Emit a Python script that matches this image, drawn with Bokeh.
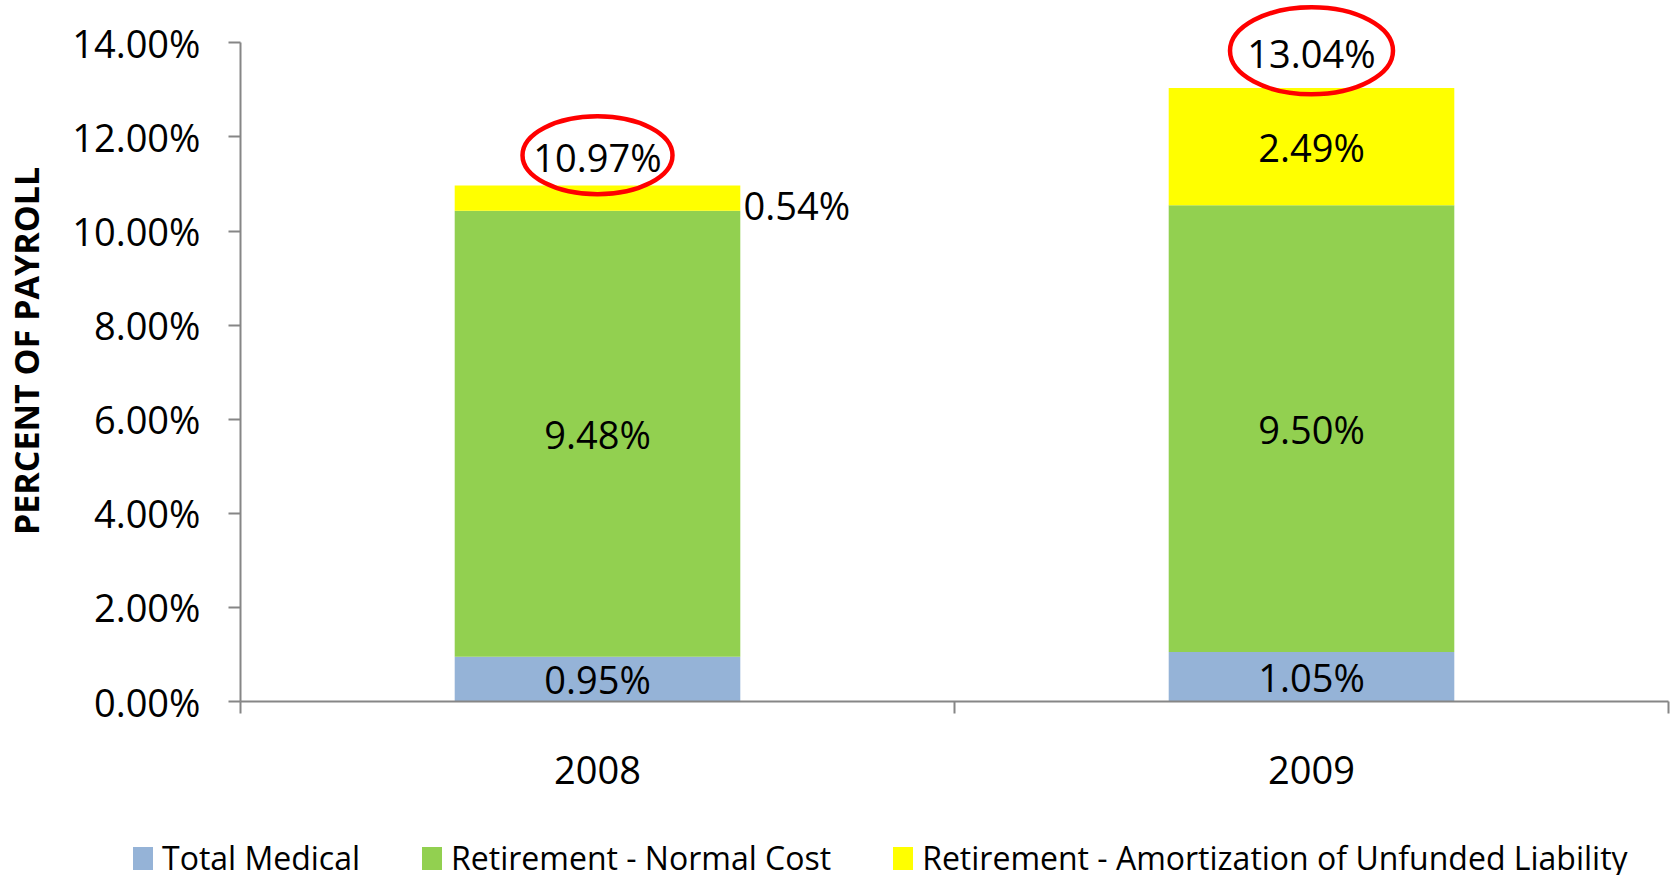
from bokeh.plotting import figure
from bokeh.layouts import column
from bokeh.models import (ColumnDataSource, Range1d, LinearAxis, Div,
                          FixedTicker, PrintfTickFormatter)
from bokeh.core.properties import value
from bokeh.embed import file_html
from bokeh.resources import INLINE

# ---- data ----
years = ["2008", "2009"]
series_names = ["Total Medical", "Retirement - Normal Cost",
                "Retirement - Amortization of Unfunded Liability"]
total_medical = [0.95, 1.05]
normal_cost = [9.48, 9.50]
amortization = [0.54, 2.49]
totals = [10.97, 13.04]
y_ticks = [0, 2, 4, 6, 8, 10, 12, 14]

# ---- style ----
colors = ["#95B3D7", "#92D050", "#FFFF00"]
FONT = "Open Sans"
AXIS_GRAY = "#868686"
LBL_SIZE = "38px"
ellipse_w = [150, 163]
ellipse_h = [78, 87]
ellipse_lift = [0.64, 0.79]   # gap between bar top and annotation centre (data units)

W = 1671
H_MAIN = 800
H_LEG = 75
LEFT = 238

# category slots: each year occupies one unit, centred at i + 0.5
xpos = [i + 0.5 for i in range(len(years))]
src = ColumnDataSource(dict(x=xpos, year=years, med=total_medical,
                            nc=normal_cost, am=amortization))

p = figure(x_range=Range1d(0, len(years)), y_range=Range1d(0, 14.9),
           width=W, height=H_MAIN, output_backend="svg", toolbar_location=None,
           x_axis_location=None,
           min_border_left=LEFT, min_border_right=3, min_border_top=0, min_border_bottom=99)
p.outline_line_color = None
p.grid.visible = False
p.background_fill_color = "white"

p.vbar_stack(["med", "nc", "am"], x="x", width=0.4, source=src,
             fill_color=colors, line_color=None)

# segment labels
in_x, in_y, in_t = [], [], []
out_x, out_y, out_t = [], [], []
for i, xc in enumerate(xpos):
    bottom = 0.0
    for vals in (total_medical, normal_cost, amortization):
        v = vals[i]
        mid = bottom + v / 2
        if v < 0.8:
            out_x.append(xc); out_y.append(mid); out_t.append(f"{v:.2f}%")
        else:
            in_x.append(xc); in_y.append(mid); in_t.append(f"{v:.2f}%")
        bottom += v

p.text(x=in_x, y=in_y, text=in_t, text_font=value(FONT), text_font_size=LBL_SIZE,
       text_align="center", text_baseline="middle", text_color="black")
p.text(x=out_x, y=out_y, text=out_t, text_font=value(FONT), text_font_size=LBL_SIZE,
       text_align="left", text_baseline="middle", text_color="black",
       x_offset=146, y_offset=7)

# totals with red ellipses
tot_y = [t + d for t, d in zip(totals, ellipse_lift)]
p.ellipse(x=xpos, y=tot_y, width=ellipse_w, height=ellipse_h,
          width_units="screen", height_units="screen",
          fill_color=None, line_color="#FF0000", line_width=4.5)
p.text(x=xpos, y=tot_y, text=[f"{t:.2f}%" for t in totals], text_font=value(FONT),
       text_font_size=LBL_SIZE, text_align="center", text_baseline="middle",
       text_color="black", y_offset=2)

# y axis
ya = p.yaxis[0]
ya.ticker = FixedTicker(ticks=y_ticks)
ya.formatter = PrintfTickFormatter(format="%.2f%%")
ya.bounds = (0, 14)
ya.axis_line_color = AXIS_GRAY
ya.axis_line_width = 2
ya.major_tick_line_color = AXIS_GRAY
ya.major_tick_line_width = 2
ya.major_tick_out = 12
ya.major_tick_in = 0
ya.minor_tick_line_color = None
ya.major_label_standoff = 28
ya.major_label_text_font = FONT
ya.major_label_text_font_size = LBL_SIZE
ya.major_label_text_color = "black"
ya.axis_label = "PERCENT OF PAYROLL"
ya.axis_label_text_font = FONT
ya.axis_label_text_font_style = "bold"
ya.axis_label_text_font_size = "34px"
ya.axis_label_text_color = "black"
ya.axis_label_standoff = 20

# x axis: category boundary ticks, labels at centres
xa = LinearAxis(ticker=FixedTicker(ticks=xpos, minor_ticks=list(range(len(years) + 1))),
                major_label_overrides={xc: yr for xc, yr in zip(xpos, years)})
xa.axis_line_color = AXIS_GRAY
xa.axis_line_width = 2
xa.major_tick_line_color = None
xa.major_tick_out = 0
xa.major_tick_in = 0
xa.minor_tick_line_color = AXIS_GRAY
xa.minor_tick_line_width = 2
xa.minor_tick_out = 12
xa.minor_tick_in = 0
xa.major_label_standoff = 42
xa.major_label_text_font = FONT
xa.major_label_text_font_size = LBL_SIZE
xa.major_label_text_color = "black"
p.add_layout(xa, "below")

# ---- legend strip underneath ----
items_html = "".join(
    f'<span style="display:inline-flex;align-items:center;margin-right:{62 if k < len(series_names) - 1 else 0}px;">'
    f'<span style="display:inline-block;width:20px;height:23px;background:{c};margin-right:9px;"></span>'
    f'<span>{name}</span></span>'
    for k, (name, c) in enumerate(zip(series_names, colors))
)
legend_div = Div(
    text=(f'<div style="position:relative;width:{W}px;height:{H_LEG}px;">'
          f'<div style="position:absolute;left:133px;top:36px;display:flex;align-items:center;'
          f'white-space:nowrap;font-family:\'{FONT}\';font-size:32px;line-height:44px;color:black;">'
          f'{items_html}</div></div>'),
    width=W, height=H_LEG, margin=0,
)

layout = column(p, legend_div, spacing=0)
html = file_html(layout, INLINE, title="Percent of Payroll")
html = html.replace("<body>", '<body style="margin:0">', 1)
open("out.html", "w").write(html)
